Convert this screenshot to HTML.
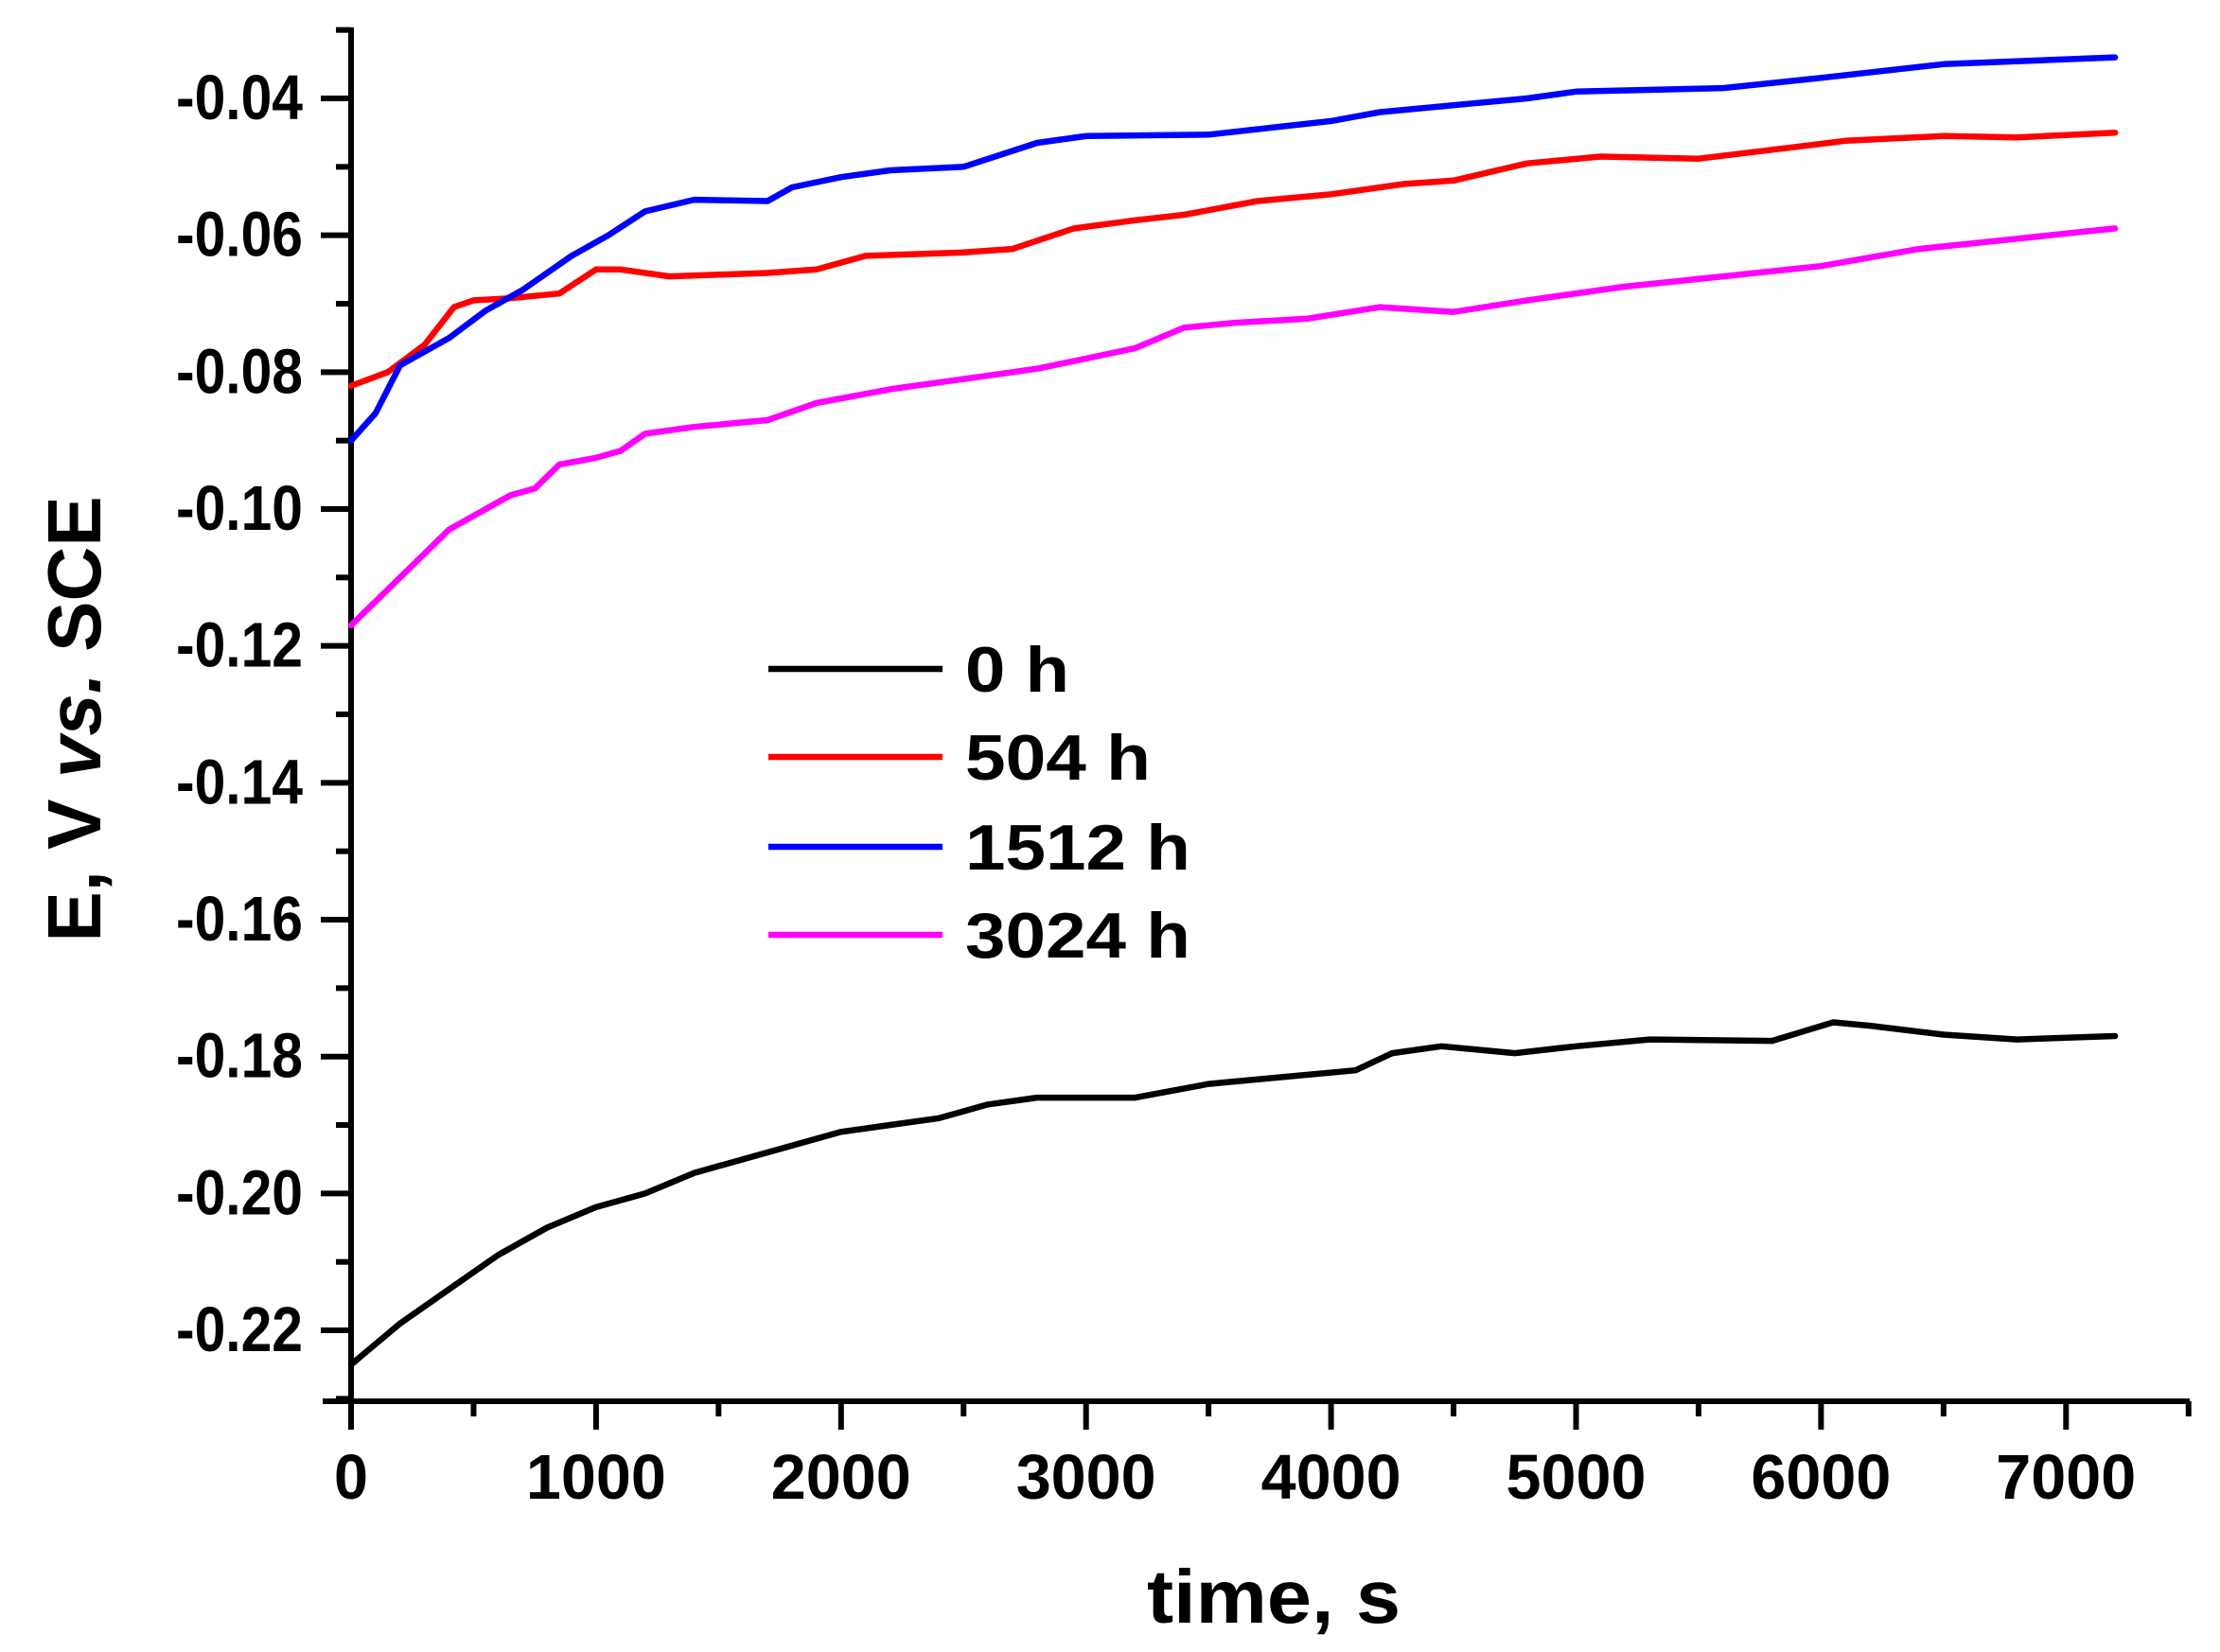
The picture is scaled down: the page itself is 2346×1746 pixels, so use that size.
<!DOCTYPE html>
<html><head><meta charset="utf-8"><style>
html,body{margin:0;padding:0;background:#fff;}
svg{display:block;}
text{font-family:"Liberation Sans",Arial,sans-serif;font-weight:bold;fill:#000;}
</style></head><body>
<svg id="s" width="2346" height="1746" viewBox="0 0 2346 1746" xmlns="http://www.w3.org/2000/svg">
<g id="ax" stroke="#000" stroke-width="6" fill="none">
<line x1="371" y1="29" x2="371" y2="1484"/>
<line x1="341" y1="1481" x2="2314" y2="1481"/>
</g>
<g id="ticks" stroke="#000" stroke-width="6"></g>
<g id="lbl" font-size="67"></g>
<g id="series" fill="none" stroke-width="6.5" stroke-linejoin="round" stroke-linecap="round"></g>
<text x="0" y="0" font-size="80" text-anchor="middle" transform="translate(106,760) rotate(-90)">E, V <tspan font-style="italic">vs.</tspan> SCE</text>
<text x="1346" y="1715" font-size="80" text-anchor="middle" textLength="268" lengthAdjust="spacingAndGlyphs">time, s</text>
<g stroke-width="6.5">
<line x1="812" y1="707" x2="996" y2="707" stroke="#000"/>
<line x1="812" y1="800" x2="996" y2="800" stroke="#ff0000"/>
<line x1="812" y1="895" x2="996" y2="895" stroke="#0000ff"/>
<line x1="812" y1="988" x2="996" y2="988" stroke="#ff00ff"/>
</g>
<g font-size="68">
<text x="1020" y="731" textLength="110" lengthAdjust="spacingAndGlyphs">0 h</text>
<text x="1020" y="824" textLength="196" lengthAdjust="spacingAndGlyphs">504 h</text>
<text x="1020" y="919" textLength="238" lengthAdjust="spacingAndGlyphs">1512 h</text>
<text x="1020" y="1012" textLength="238" lengthAdjust="spacingAndGlyphs">3024 h</text>
</g>
</svg>
<script>
var NS="http://www.w3.org/2000/svg";
function X(t){return 371+t*0.2589;}
function Y(v){return 104+(-0.04-v)/0.02*144.67;}
var tk=document.getElementById("ticks"),lb=document.getElementById("lbl");
function ln(x1,y1,x2,y2){var l=document.createElementNS(NS,"line");l.setAttribute("x1",x1);l.setAttribute("y1",y1);l.setAttribute("x2",x2);l.setAttribute("y2",y2);tk.appendChild(l);}
function tx(x,y,s,a,w){var t=document.createElementNS(NS,"text");t.setAttribute("x",x);t.setAttribute("y",y);t.setAttribute("text-anchor",a);t.setAttribute("textLength",w);t.setAttribute("lengthAdjust","spacingAndGlyphs");t.textContent=s;lb.appendChild(t);}
for(var i=0;i<=20;i++){var v=-0.03-0.01*i;var y=Y(v);if(i%2==1){ln(339,y,371,y);tx(320,y+22,v.toFixed(2),"end",134);}else{ln(355,y,371,y);}}
for(var t=0;t<=7500;t+=500){var x=X(t);if(t%1000==0){ln(x,1481,x,1511);tx(x,1584,""+t,"middle",t==0?36:148);}else{ln(x,1481,x,1497);}}
var D={
"#000":[0,-0.225,200,-0.219,400,-0.214,600,-0.209,800,-0.205,1000,-0.202,1200,-0.2,1400,-0.197,1600,-0.195,1800,-0.193,2000,-0.191,2200,-0.19,2400,-0.189,2600,-0.187,2800,-0.186,3200,-0.186,3500,-0.184,3800,-0.183,4100,-0.182,4250,-0.1795,4450,-0.1785,4750,-0.1795,5000,-0.1785,5300,-0.1775,5800,-0.1777,6050,-0.175,6200,-0.1755,6500,-0.1768,6800,-0.1775,7200,-0.177],
"#ff0000":[0,-0.082,150,-0.08,300,-0.076,420,-0.0705,500,-0.0695,650,-0.0692,850,-0.0685,1000,-0.065,1100,-0.065,1300,-0.066,1700,-0.0655,1900,-0.065,2100,-0.063,2500,-0.0625,2700,-0.062,2950,-0.059,3200,-0.0578,3400,-0.057,3700,-0.055,4000,-0.054,4300,-0.0525,4500,-0.052,4800,-0.0495,5100,-0.0485,5500,-0.0488,5800,-0.0475,6100,-0.0462,6500,-0.0455,6800,-0.0457,7200,-0.045],
"#0000ff":[0,-0.09,100,-0.086,200,-0.079,400,-0.075,550,-0.071,700,-0.068,900,-0.063,1050,-0.06,1200,-0.0565,1400,-0.0548,1700,-0.055,1800,-0.053,2000,-0.0515,2200,-0.0505,2500,-0.05,2800,-0.0465,3000,-0.0455,3500,-0.0453,4000,-0.0433,4200,-0.042,4500,-0.041,4800,-0.04,5000,-0.039,5600,-0.0385,6000,-0.037,6500,-0.035,7200,-0.034],
"#ff00ff":[0,-0.117,200,-0.11,400,-0.103,550,-0.1,650,-0.098,750,-0.097,850,-0.0935,1000,-0.0925,1100,-0.0915,1200,-0.089,1400,-0.088,1700,-0.087,1900,-0.0845,2200,-0.0825,2500,-0.081,2800,-0.0795,3000,-0.078,3200,-0.0765,3400,-0.0735,3600,-0.0728,3900,-0.0722,4200,-0.0705,4500,-0.0712,4800,-0.0695,5200,-0.0675,5600,-0.066,6000,-0.0645,6400,-0.062,6800,-0.0605,7200,-0.059]};
var sg=document.getElementById("series");
for(var c in D){var a=D[c],p=[];for(var k=0;k<a.length;k+=2)p.push(X(a[k]).toFixed(1)+","+Y(a[k+1]).toFixed(1));var pl=document.createElementNS(NS,"polyline");pl.setAttribute("points",p.join(" "));pl.setAttribute("stroke",c);sg.appendChild(pl);}
</script>
</body></html>
